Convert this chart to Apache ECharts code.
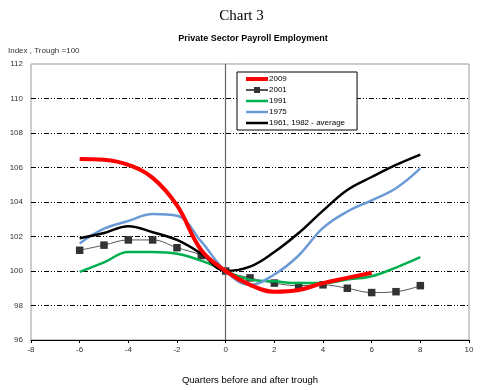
<!DOCTYPE html>
<html>
<head>
<meta charset="utf-8">
<script src="https://cdn.jsdelivr.net/npm/echarts@6/dist/echarts.min.js"></script>
<style>
html,body{margin:0;padding:0;background:#fff;}
#c{width:483px;height:390px;}
</style>
</head>
<body>
<div id="c"></div>
<script>
var quarters = [-6,-5,-4,-3,-2,-1,0,1,2,3,4,5,6,7,8];
var s2009 = [106.5,106.45,106.15,105.4,103.8,101.2,100,99.2,98.8,98.9,99.3,99.6,99.9];
var s2001 = [101.2,101.5,101.8,101.8,101.35,100.9,100,99.6,99.3,99.15,99.2,99.0,98.75,98.8,99.15];
var s1991 = [99.95,100.5,101.1,101.1,101.0,100.6,100,99.5,99.4,99.3,99.3,99.5,99.7,100.2,100.8];
var s1975 = [101.6,102.45,102.9,103.3,103.2,101.7,100,99.2,99.8,100.9,102.5,103.45,104.1,104.8,105.95];
var sAvg  = [101.9,102.2,102.6,102.25,101.8,101.0,100,100.25,101.1,102.2,103.5,104.7,105.45,106.15,106.75];
var names = ['2009','2001','1991','1975','1961, 1982 - average'];
var yTicks = {min:96, max:112, interval:2};
var xTicks = {min:-8, max:10, interval:2};

function pairs(vals){ return vals.map(function(v,i){ return [quarters[i], v]; }); }

// legend line icons: thin invisible slivers at top/bottom keep the box height fixed
var thickIcon = 'path://M0,0L22,0L22,0.01Z M0,1.75L22,1.75L22,5.75L0,5.75Z M0,7.5L22,7.5L22,7.49Z';
var lineIcon  = 'path://M0,0L22,0L22,0.01Z M0,2.5L22,2.5L22,5L0,5Z M0,7.5L22,7.5L22,7.49Z';

var font = 'Liberation Sans, Arial, sans-serif';
var chart = echarts.init(document.getElementById('c'));
chart.setOption({
  animation:false,
  backgroundColor:'#fff',
  title:[
    {text:'Chart 3', left:'center', top:4, textStyle:{fontFamily:'Liberation Serif, Times New Roman, serif', fontSize:15, fontWeight:'normal', color:'#000'}},
    {text:'Private Sector Payroll Employment', left:248, textAlign:'center', top:29, textStyle:{fontFamily:font, fontSize:9, fontWeight:'bold', color:'#000'}},
    {text:'Index , Trough =100', left:3, top:42, textStyle:{fontFamily:font, fontSize:8, fontWeight:'normal', color:'#333'}}
  ],
  grid:{left:31, right:14, top:64, bottom:49, show:true, borderColor:'#999', borderWidth:1, backgroundColor:'transparent'},
  legend:{
    orient:'vertical', left:237, top:72,
    backgroundColor:'#fff', borderColor:'#000', borderWidth:1,
    padding:[3,12,3,8], itemGap:3, itemWidth:22, itemHeight:7.5,
    textStyle:{fontFamily:font, fontSize:8, color:'#000', padding:[0,0,0,-4]},
    data:[
      {name:names[0], icon:thickIcon},
      {name:names[1]},
      {name:names[2], icon:lineIcon},
      {name:names[3], icon:lineIcon},
      {name:names[4], icon:lineIcon}
    ]
  },
  xAxis:{
    type:'value', min:xTicks.min, max:xTicks.max, interval:xTicks.interval,
    name:'Quarters before and after trough', nameLocation:'middle', nameGap:35,
    nameTextStyle:{fontFamily:font, fontSize:9.5, color:'#000'},
    axisLine:{onZero:false, lineStyle:{color:'#000', width:1}},
    axisTick:{show:true, length:3, lineStyle:{color:'#000'}},
    axisLabel:{fontFamily:font, fontSize:8, color:'#333', margin:6},
    splitLine:{show:false}
  },
  yAxis:{
    type:'value', min:yTicks.min, max:yTicks.max, interval:yTicks.interval,
    axisLine:{show:true, lineStyle:{color:'#999'}},
    axisTick:{show:false},
    axisLabel:{fontFamily:font, fontSize:8, color:'#333', margin:8},
    splitLine:{show:true, showMinLine:false, showMaxLine:false, lineStyle:{color:'#000', width:1, type:[5,2,1,2,1,2]}}
  },
  series:[
    {name:names[0], type:'line', data:pairs(s2009), smooth:0.4, symbol:'none', z:5,
      lineStyle:{color:'#FF0000', width:4}, itemStyle:{color:'#FF0000'},
      markLine:{silent:true, symbol:'none', label:{show:false}, lineStyle:{color:'#666', width:1.2, type:'solid'}, data:[{xAxis:0}]}},
    {name:names[1], type:'line', data:pairs(s2001), smooth:0.4, symbol:'rect', symbolSize:7.5, z:3,
      lineStyle:{color:'#555', width:1}, itemStyle:{color:'#333'}},
    {name:names[2], type:'line', data:pairs(s1991), smooth:0.4, symbol:'none', z:4,
      lineStyle:{color:'#00B050', width:2.5}, itemStyle:{color:'#00B050'}},
    {name:names[3], type:'line', data:pairs(s1975), smooth:0.4, symbol:'none', z:4,
      lineStyle:{color:'#6A9AD6', width:2.5}, itemStyle:{color:'#6A9AD6'}},
    {name:names[4], type:'line', data:pairs(sAvg), smooth:0.4, symbol:'none', z:4,
      lineStyle:{color:'#000', width:2.5}, itemStyle:{color:'#000'}}
  ]
});
</script>
</body>
</html>
